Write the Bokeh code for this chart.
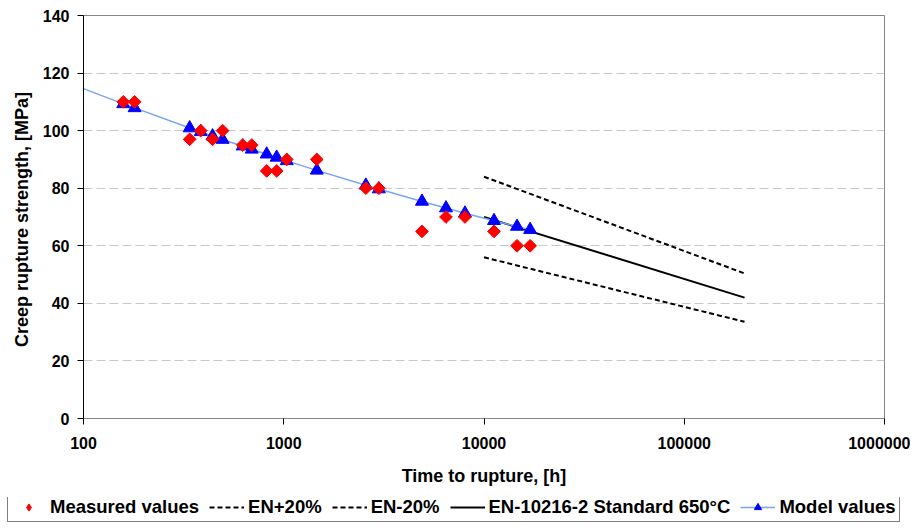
import numpy as np
from bokeh.plotting import figure
from bokeh.layouts import column, row
from bokeh.models import FixedTicker, Legend, LegendItem, Range1d, CustomJSTickFormatter
from bokeh.embed import file_html
from bokeh.resources import INLINE

# ---- data ----
meas_t = [158, 180, 339, 385, 441, 495, 624, 692, 822, 922, 1035, 1462,
          2570, 2985, 4900, 6460, 8035, 11220, 14620, 17000]
meas_s = [110, 110, 97, 100, 97, 100, 95, 95, 86, 86, 90, 90,
          80, 80, 65, 70, 70, 65, 60, 60]

model_t = [158, 180, 339, 385, 441, 495, 624, 692, 822, 922, 1035, 1462,
           2570, 2985, 4900, 6460, 8035, 11220, 14620, 17000]
model_s = [109.3, 107.9, 100.9, 99.6, 98.1, 96.9, 94.6, 93.5, 91.8, 90.7, 89.5, 86.2,
           81.0, 79.7, 75.4, 73.1, 71.3, 68.7, 66.7, 65.6]

model_line_t = [100, 158, 180, 339, 385, 441, 495, 624, 692, 822, 922, 1035, 1462,
                2570, 2985, 4900, 6460, 8035, 11220, 14620, 17000]
model_line_s = [114.6, 109.3, 107.9, 100.9, 99.6, 98.1, 96.9, 94.6, 93.5, 91.8, 90.7, 89.5, 86.2,
                81.0, 79.7, 75.4, 73.1, 71.3, 68.7, 66.7, 65.6]

en_t = [10000, 200000]
en_s = [70, 42]
en_plus_s = [84, 50.4]
en_minus_s = [56, 33.6]

x_ticks = [100, 1000, 10000, 100000, 1000000]
x_tick_labels = ["100", "1000", "10000", "100000", "1000000"]
y_ticks = [0, 20, 40, 60, 80, 100, 120, 140]

series_labels = ["Measured values", "EN+20%", "EN-20%",
                 "EN-10216-2 Standard 650\u00b0C", "Model values"]

FONT = "Liberation Sans"

p = figure(width=910, height=497, x_axis_type="log",
           x_range=Range1d(100, 1000000), y_range=Range1d(0, 140),
           output_backend="svg", toolbar_location=None,
           min_border_left=83, min_border_right=26, min_border_top=15, min_border_bottom=79)

p.outline_line_color = "#868686"
p.outline_line_width = 1
p.background_fill_color = "white"

p.xgrid.visible = False
p.ygrid.ticker = FixedTicker(ticks=y_ticks)
p.ygrid.grid_line_color = "#c8c8c8"
p.ygrid.grid_line_dash = "9 4"
p.ygrid.grid_line_width = 1

# x axis
p.xaxis.ticker = FixedTicker(ticks=x_ticks, minor_ticks=[])
p.xaxis.formatter = CustomJSTickFormatter(args=dict(tvals=x_ticks, tlabels=x_tick_labels), code="""
for (let i = 0; i < tvals.length; i++) {
  if (Math.abs(tvals[i] - tick) / tvals[i] < 1e-6) return tlabels[i];
}
return tick.toFixed(0);
""")
p.xaxis.axis_label = "Time to rupture, [h]"
p.xaxis.axis_line_color = "#868686"
p.xaxis.major_tick_line_color = "black"
p.xaxis.major_tick_out = 6
p.xaxis.major_tick_in = 0
p.xaxis.minor_tick_line_color = None
p.xaxis.major_label_standoff = 12
p.xaxis.axis_label_standoff = 14

# y axis
p.yaxis.ticker = FixedTicker(ticks=y_ticks, minor_ticks=[])
p.yaxis.axis_label = "Creep rupture strength,  [MPa]"
p.yaxis.axis_line_color = "black"
p.yaxis.major_tick_line_color = "black"
p.yaxis.major_tick_out = 6
p.yaxis.major_tick_in = 0
p.yaxis.minor_tick_line_color = None
p.yaxis.major_label_standoff = 8
p.yaxis.axis_label_standoff = 8

for ax in (p.xaxis, p.yaxis):
    ax.major_label_text_font = FONT
    ax.major_label_text_font_style = "bold"
    ax.major_label_text_font_size = "16px"
    ax.major_label_text_color = "black"
    ax.axis_label_text_font = FONT
    ax.axis_label_text_font_style = "bold"
    ax.axis_label_text_font_size = "18px"
    ax.axis_label_text_color = "black"

# styles
MEAS = dict(marker="square", angle=np.pi / 4, fill_color="#ff0000", line_color="#ff0000")
MEAS_KEY = dict(marker="diamond", fill_color="#ff0000", line_color="#ff0000")
TRI = dict(marker="triangle", fill_color="#0000ff", line_color="#0000ff")
DASH = dict(line_color="black", line_width=2, line_dash="5 3")
SOLID = dict(line_color="black", line_width=2)
BLUE = dict(line_color="#78a4f7", line_width=1.5)

# glyphs
p.line(en_t, en_plus_s, **DASH)
p.line(en_t, en_minus_s, **DASH)
p.line(en_t, en_s, **SOLID)
p.line(model_line_t, model_line_s, **BLUE)
p.scatter(model_t, model_s, size=13, **TRI)
p.scatter(meas_t, meas_s, size=9, **MEAS)

# legend strip (separate figure so it is not clipped by the main frame)
lf = figure(width=910, height=25, output_backend="svg", toolbar_location=None,
            x_range=Range1d(0, 1), y_range=Range1d(0, 1),
            x_axis_location=None, y_axis_location=None,
            min_border_left=0, min_border_right=0, min_border_top=0, min_border_bottom=0)
lf.grid.visible = False
lf.outline_line_color = None
off = [-10.0]  # keys placed outside the strip's range: only the legend shows them
r_meas = lf.scatter(x=off, y=off, size=10, **MEAS_KEY)
r_plus = lf.line(x=off, y=off, **DASH)
r_minus = lf.line(x=off, y=off, **DASH)
r_en = lf.line(x=off, y=off, **SOLID)
r_mline = lf.line(x=off, y=off, **BLUE)
r_mtri = lf.scatter(x=off, y=off, size=13, **TRI)

legend = Legend(items=[
    LegendItem(label=series_labels[0], renderers=[r_meas]),
    LegendItem(label=series_labels[1], renderers=[r_plus]),
    LegendItem(label=series_labels[2], renderers=[r_minus]),
    LegendItem(label=series_labels[3], renderers=[r_en]),
    LegendItem(label=series_labels[4], renderers=[r_mline, r_mtri]),
], orientation="horizontal", location=(7, 0), margin=0, padding=3,
    spacing=10, glyph_width=35, glyph_height=18, label_standoff=4, label_height=18,
    border_line_color="black", border_line_width=1,
    background_fill_color="white", background_fill_alpha=1.0,
    label_text_font=FONT, label_text_font_style="bold", label_text_font_size="18.5px",
    label_text_color="black")
lf.add_layout(legend)

layout = column(p, row(lf), spacing=0)
open("out.html", "w").write(file_html(layout, INLINE))
